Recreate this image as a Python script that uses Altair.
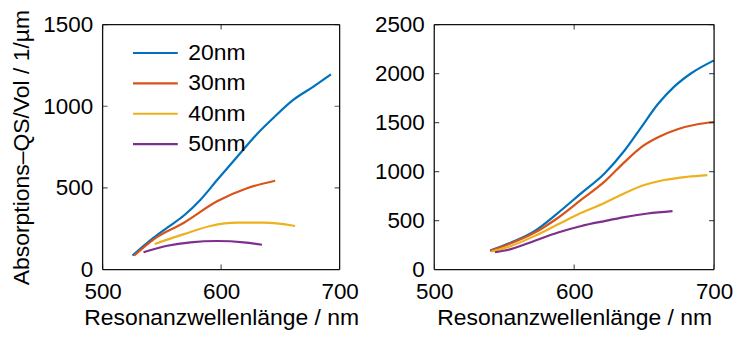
import altair as alt
import pandas as pd

series = ["20nm", "30nm", "40nm", "50nm"]
colors = ["#0072BD", "#D95319", "#EDB120", "#7E2F8E"]

# Left panel
L20_x = [525.2, 543.4, 554.6, 568.6, 582.6, 596.6, 613.4, 630.3, 644.3, 661.1, 677.9, 692.7]
L20_y = [86, 197, 257, 331, 428, 548, 689, 830, 930, 1040, 1120, 1195]
L30_x = [526.6, 543.4, 568.6, 596.6, 621.8, 645.6]
L30_y = [86, 187, 287, 418, 498, 544]
L40_x = [544.0, 568.6, 591.0, 613.4, 635.9, 662.4]
L40_y = [157, 217, 267, 287, 287, 267]
L50_x = [534.5, 554.6, 574.2, 596.6, 619.0, 634.5]
L50_y = [106, 146, 167, 175, 167, 152]

# Right panel
R20_x = [539.9, 555.3, 571.9, 588.5, 605.1, 621.7, 636.0, 647.8, 659.6, 671.5, 683.4, 700.0]
R20_y = [194, 278, 395, 579, 780, 981, 1215, 1449, 1684, 1867, 2001, 2135]
R30_x = [540.0, 555.3, 571.9, 588.5, 605.1, 621.7, 636.0, 647.8, 659.6, 673.9, 688.1, 700.0]
R30_y = [190, 271, 378, 529, 713, 897, 1097, 1248, 1348, 1432, 1483, 1506]
R40_x = [541.0, 555.3, 571.9, 588.5, 605.1, 621.7, 636.0, 650.2, 664.4, 681.0, 695.2]
R40_y = [184, 244, 344, 462, 579, 680, 780, 863, 914, 947, 964]
R50_x = [543.4, 555.3, 571.9, 588.5, 605.1, 621.7, 636.0, 652.5, 670.3]
R50_y = [177, 211, 294, 378, 445, 495, 535, 572, 596]

x_ticks = [500, 600, 700]
yL_ticks = [0, 500, 1000, 1500]
yR_ticks = [0, 500, 1000, 1500, 2000, 2500]

x_title = "Resonanzwellenlänge / nm"
y_title = "Absorptions\u2013QS/Vol / 1/\u00b5m"


def frame(xs_list, ys_list):
    rows = []
    for name, xs, ys in zip(series, xs_list, ys_list):
        for i, (a, b) in enumerate(zip(xs, ys)):
            rows.append({"wl": a, "val": b, "size": name, "order": i})
    return pd.DataFrame(rows)


dfL = frame([L20_x, L30_x, L40_x, L50_x], [L20_y, L30_y, L40_y, L50_y])
dfR = frame([R20_x, R30_x, R40_x, R50_x], [R20_y, R30_y, R40_y, R50_y])

FONT = "Liberation Sans"
INK = "#111111"
axis_style = dict(grid=False, domain=False, ticks=False, labelFont=FONT,
                  labelFontSize=22.5, labelColor="#000000", titleFont=FONT,
                  titleFontSize=23, titleColor="#000000", format="d",
                  titleFontWeight="normal", labelFlush=False, labelOverlap=False)

H = 246


def panel(df, ydom, yticks, w, show_title, legend):
    xs = alt.Scale(domain=[500, 700], nice=False, zero=False)
    ysc = alt.Scale(domain=ydom, nice=False)
    color = alt.Color("size:N", scale=alt.Scale(domain=series, range=colors),
                      legend=legend)
    lines = alt.Chart(df).mark_line(strokeWidth=2.2, interpolate="monotone").encode(
        x=alt.X("wl:Q", scale=xs,
                axis=alt.Axis(orient="bottom", values=x_ticks, title=x_title,
                              labelPadding=11, titlePadding=4, **axis_style)),
        y=alt.Y("val:Q", scale=ysc,
                axis=alt.Axis(orient="left", values=yticks,
                              title=y_title if show_title else None,
                              labelPadding=10, titlePadding=9, **axis_style)),
        color=color,
        order="order:Q",
    )
    # box edges at the ends of both scale domains
    vframe = alt.Chart(pd.DataFrame({"wl": [500, 700]})).mark_rule(
        color=INK, strokeWidth=1.3).encode(x=alt.X("wl:Q", scale=xs))
    hframe = alt.Chart(pd.DataFrame({"val": ydom})).mark_rule(
        color=INK, strokeWidth=1.3).encode(y=alt.Y("val:Q", scale=ysc))
    # inward tick marks on all four sides (half of each tick is clipped away)
    xt = pd.DataFrame({"wl": x_ticks * 2,
                       "val": [ydom[0]] * len(x_ticks) + [ydom[1]] * len(x_ticks)})
    yt = pd.DataFrame({"wl": [500] * len(yticks) + [700] * len(yticks),
                       "val": yticks * 2})
    xtick = alt.Chart(xt).mark_tick(orient="vertical", size=10, thickness=1.2,
                                    color=INK, clip=True).encode(
        x=alt.X("wl:Q", scale=xs), y=alt.Y("val:Q", scale=ysc))
    ytick = alt.Chart(yt).mark_tick(orient="horizontal", size=10, thickness=1.2,
                                    color=INK, clip=True).encode(
        x=alt.X("wl:Q", scale=xs), y=alt.Y("val:Q", scale=ysc))
    return alt.layer(lines, vframe, hframe, xtick, ytick).properties(width=w, height=H)


legendL = alt.Legend(orient="none", legendX=29, legendY=17, title=None,
                     symbolType="stroke", symbolSize=2025, symbolStrokeWidth=2.2,
                     labelFont=FONT, labelFontSize=23, labelColor="#000000",
                     labelOffset=9, rowPadding=6.5, padding=0, clipHeight=23)

left = panel(dfL, [0, 1500], yL_ticks, 238, True, legendL)
right = panel(dfR, [0, 2500], yR_ticks, 281, False, None)

chart = alt.hconcat(left, right, spacing=14).resolve_legend(color="independent").properties(
    padding={"left": 2, "top": 0, "right": 0, "bottom": 0}, background="white"
).configure_view(stroke="transparent")

chart.save("out.html", embed_options={"renderer": "svg", "actions": False})
